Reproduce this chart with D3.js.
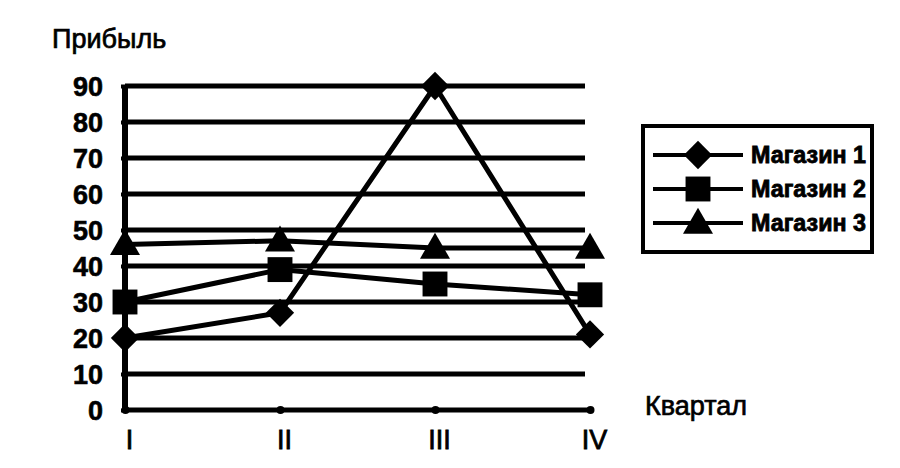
<!DOCTYPE html>
<html><head><meta charset="utf-8">
<script src="https://cdn.jsdelivr.net/npm/d3@7"></script>
<style>body{margin:0;background:#fff}svg{display:block}</style>
</head><body>
<svg id="c" width="900" height="468"></svg>
<script>
const quarters = ["I", "II", "III", "IV"];
const yTicks = [0, 10, 20, 30, 40, 50, 60, 70, 80, 90];
const seriesNames = ["Магазин 1", "Магазин 2", "Магазин 3"];
const store1 = [20, 27, 90, 21];
const store2 = [30, 39, 35, 32];
const store3 = [46, 47, 45, 45];
const yTitle = "Прибыль";
const xTitle = "Квартал";

// wide diamond (rotated square)
const wideDiamond = {
  draw(ctx, size) {
    const r = Math.sqrt(size / 2);
    ctx.moveTo(0, -r); ctx.lineTo(r, 0); ctx.lineTo(0, r); ctx.lineTo(-r, 0); ctx.closePath();
  }
};

const series = [
  {name: seriesNames[0], values: store1, sym: wideDiamond, size: 400, dy: 0},
  {name: seriesNames[1], values: store2, sym: d3.symbolSquare, size: 620, dy: 0},
  {name: seriesNames[2], values: store3, sym: d3.symbolTriangle, size: 390, dy: 2}
];

const svg = d3.select("#c");
const x = d3.scalePoint().domain(quarters).range([125, 590]).padding(0);
const y = d3.scaleLinear().domain([0, 90]).range([410, 86]);
const font = "'Liberation Sans', Arial, sans-serif";

// gridlines
svg.append("g").selectAll("line").data(yTicks.filter(d => d > 0)).join("line")
  .attr("x1", 125).attr("x2", 585)
  .attr("y1", d => y(d)).attr("y2", d => y(d))
  .attr("stroke", "#000").attr("stroke-width", 5);

// y axis
const ya = svg.append("g").attr("transform", "translate(125,0)")
  .call(d3.axisLeft(y).tickValues(yTicks).tickSize(4).tickPadding(18));
ya.select(".domain").attr("stroke-width", 6).attr("d", `M0,${y(90)}V${y(0)}`);
ya.selectAll(".tick line").attr("stroke-width", 4);
ya.selectAll("text").attr("font-family", font).attr("font-weight", "bold")
  .attr("font-size", 27).attr("fill", "#000").attr("stroke", "#000").attr("stroke-width", 0.6)
  .attr("dy", "0.36em");

// x axis
const xa = svg.append("g").attr("transform", `translate(0,${y(0)})`)
  .call(d3.axisBottom(x).tickSize(0).tickPadding(20));
xa.select(".domain").attr("stroke-width", 5).attr("d", `M125,0H590`);
xa.selectAll("text").attr("font-family", font).attr("font-size", 27)
  .attr("fill", "#000").attr("stroke", "#000").attr("stroke-width", 0.8).attr("dx", 4);
xa.selectAll(".tick").append("circle").attr("r", 4).attr("fill", "#000");

// series
const line = d3.line().x((d, i) => x(quarters[i])).y(d => y(d));
series.forEach(s => {
  svg.append("path").datum(s.values).attr("d", line)
    .attr("fill", "none").attr("stroke", "#000").attr("stroke-width", 5)
    .attr("stroke-linejoin", "round");
});
series.forEach(s => {
  svg.append("g").selectAll("path").data(s.values).join("path")
    .attr("transform", (d, i) => `translate(${x(quarters[i])},${y(d) + s.dy})`)
    .attr("d", d3.symbol().type(s.sym).size(s.size))
    .attr("fill", "#000");
});

// titles
svg.append("text").attr("x", 52).attr("y", 48).text(yTitle)
  .attr("font-family", font).attr("font-size", 27).attr("fill", "#000")
  .attr("stroke", "#000").attr("stroke-width", 0.7);
svg.append("text").attr("x", 645).attr("y", 415).text(xTitle)
  .attr("font-family", font).attr("font-size", 27).attr("fill", "#000")
  .attr("stroke", "#000").attr("stroke-width", 0.7);

// legend
const lg = svg.append("g");
lg.append("rect").attr("x", 643).attr("y", 126).attr("width", 229).attr("height", 126)
  .attr("fill", "none").attr("stroke", "#000").attr("stroke-width", 4);
const rowsY = [155, 189, 223];
series.forEach((s, i) => {
  const g = lg.append("g").attr("transform", `translate(0,${rowsY[i]})`);
  g.append("line").attr("x1", 653).attr("x2", 743).attr("y1", 0).attr("y2", 0)
    .attr("stroke", "#000").attr("stroke-width", 4);
  g.append("path").attr("transform", `translate(698,${s.dy})`)
    .attr("d", d3.symbol().type(s.sym).size(s.size)).attr("fill", "#000");
  g.append("text").attr("x", 751).attr("y", 0).attr("dy", "0.36em").text(s.name)
    .attr("font-family", font).attr("font-weight", "bold").attr("font-size", 23)
    .attr("stroke", "#000").attr("stroke-width", 0.8)
    .attr("textLength", 115).attr("lengthAdjust", "spacingAndGlyphs").attr("fill", "#000");
});
</script>
</body></html>
